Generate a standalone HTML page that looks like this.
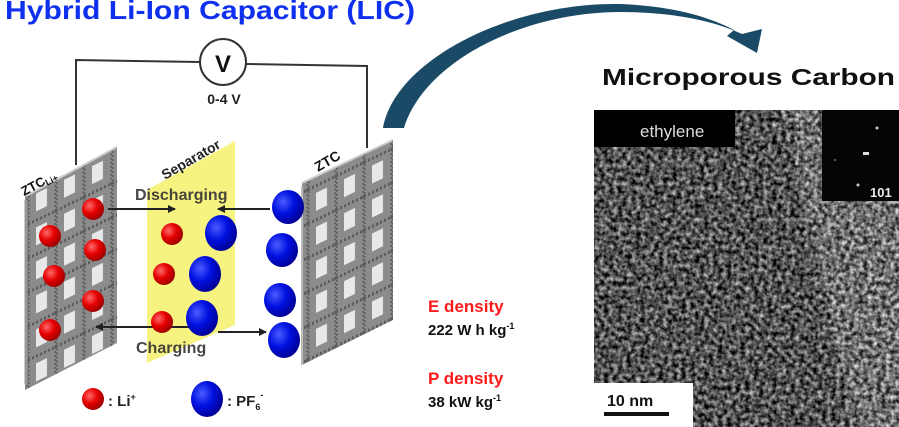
<!DOCTYPE html>
<html><head><meta charset="utf-8"><style>
html,body{margin:0;padding:0;background:#fff;width:899px;height:427px;overflow:hidden}
text{font-family:"Liberation Sans",Arial,sans-serif;font-weight:bold}
</style></head><body>
<svg width="899" height="427" viewBox="0 0 899 427" xmlns="http://www.w3.org/2000/svg">
<defs>
<radialGradient id="rg" cx="0.35" cy="0.35" r="0.7"><stop offset="0" stop-color="#ff6a6a"/><stop offset="0.5" stop-color="#e60000"/><stop offset="1" stop-color="#900"/></radialGradient>
<radialGradient id="bg" cx="0.35" cy="0.35" r="0.7"><stop offset="0" stop-color="#4a5cff"/><stop offset="0.5" stop-color="#0010e0"/><stop offset="1" stop-color="#000090"/></radialGradient>
<pattern id="lat" width="28" height="34" patternUnits="userSpaceOnUse" patternTransform="skewY(-26)">
<rect width="28" height="34" fill="#8c8c8c"/>
<rect x="8" y="7" width="11" height="18" fill="#e8e8e8"/>
<rect x="0" y="0" width="28" height="34" fill="none" stroke="#5a5a5a" stroke-width="3" stroke-dasharray="2 2"/>
</pattern>
<filter id="tem" x="0" y="0" width="1" height="1" color-interpolation-filters="sRGB">
<feTurbulence type="fractalNoise" baseFrequency="0.22" numOctaves="2" seed="3"/>
<feColorMatrix type="matrix" values="1.5 0 0 0 -0.37  1.5 0 0 0 -0.37  1.5 0 0 0 -0.37  0 0 0 0 1"/>
</filter>
<marker id="ah" markerWidth="8" markerHeight="8" refX="7" refY="4" orient="auto" markerUnits="userSpaceOnUse"><path d="M0,0 L8,4 L0,8 Z" fill="#222"/></marker>
</defs>

<text x="5" y="19" font-size="26" fill="#1030f0" textLength="410" lengthAdjust="spacingAndGlyphs">Hybrid Li-Ion Capacitor (LIC)</text>

<polyline points="76,165 76,60 200,62" fill="none" stroke="#333" stroke-width="2"/>
<polyline points="246,64 367,66 367,148" fill="none" stroke="#333" stroke-width="2"/>
<circle cx="223" cy="62" r="23" fill="#fff" stroke="#333" stroke-width="2"/>
<text x="223" y="72" font-size="24" text-anchor="middle" fill="#111">V</text>
<text x="224" y="104" font-size="14" text-anchor="middle" fill="#222">0-4 V</text>

<path d="M383,128 C395,60 510,2 620,4 C675,6 712,18 734,30 L727,36 L757,53 L762,29 L742,34 C712,20 670,12 620,12 C525,12 425,60 404,128 Z" fill="#1b4a66"/>

<polygon points="25,196 117,147 117,343 25,390" fill="url(#lat)"/>
<line x1="26" y1="200" x2="26" y2="384" stroke="#999" stroke-width="3"/>
<line x1="26" y1="196" x2="117" y2="147" stroke="#ccc" stroke-width="2"/>
<text x="0" y="0" font-size="13" fill="#111" transform="translate(24,196) rotate(-28)">ZTC<tspan font-size="9" dy="2">Li+</tspan></text>

<polygon points="147,190 235,141 235,325 147,363" fill="#f7f27a" opacity="0.95"/>
<text x="0" y="0" font-size="14" fill="#222" transform="translate(165,180) rotate(-30)">Separator</text>

<polygon points="302,183 393,140 393,320 302,365" fill="url(#lat)"/>
<line x1="302" y1="183" x2="393" y2="140" stroke="#ccc" stroke-width="2"/>
<line x1="302" y1="186" x2="302" y2="365" stroke="#bbb" stroke-width="2"/>
<text x="0" y="0" font-size="14" fill="#111" transform="translate(318,172) rotate(-30)">ZTC</text>

<line x1="108" y1="209" x2="175" y2="209" stroke="#222" stroke-width="2" marker-end="url(#ah)"/>
<line x1="270" y1="209" x2="218" y2="209" stroke="#222" stroke-width="2" marker-end="url(#ah)"/>
<line x1="190" y1="327" x2="96" y2="327" stroke="#222" stroke-width="2" marker-end="url(#ah)"/>
<line x1="218" y1="332" x2="266" y2="332" stroke="#222" stroke-width="2" marker-end="url(#ah)"/>
<text x="135" y="200" font-size="16" fill="#333" opacity="0.9">Discharging</text>
<text x="136" y="353" font-size="16" fill="#333" opacity="0.9">Charging</text>

<g fill="url(#rg)">
<circle cx="93" cy="209" r="11"/><circle cx="50" cy="236" r="11"/><circle cx="95" cy="250" r="11"/>
<circle cx="54" cy="276" r="11"/><circle cx="93" cy="301" r="11"/><circle cx="50" cy="330" r="11"/>
<circle cx="172" cy="234" r="11"/><circle cx="164" cy="274" r="11"/><circle cx="162" cy="322" r="11"/>
<circle cx="93" cy="399" r="11"/>
</g>
<g fill="url(#bg)">
<ellipse cx="221" cy="233" rx="16" ry="18"/><ellipse cx="205" cy="274" rx="16" ry="18"/><ellipse cx="202" cy="318" rx="16" ry="18"/>
<ellipse cx="288" cy="207" rx="16" ry="17"/><ellipse cx="282" cy="250" rx="16" ry="17"/>
<ellipse cx="280" cy="300" rx="16" ry="17"/><ellipse cx="284" cy="340" rx="16" ry="18"/>
<ellipse cx="207" cy="399" rx="16" ry="18"/>
</g>
<text x="108" y="406" font-size="15" fill="#222">: Li<tspan font-size="9" dy="-6">+</tspan></text>
<text x="227" y="406" font-size="15" fill="#222">: PF<tspan font-size="9" dy="4">6</tspan><tspan font-size="9" dy="-12">-</tspan></text>

<text x="428" y="312" font-size="17" fill="#ff1a1a">E density</text>
<text x="428" y="335" font-size="15" fill="#111">222 W h kg<tspan font-size="9" dy="-6">-1</tspan></text>
<text x="428" y="384" font-size="17" fill="#ff1a1a">P density</text>
<text x="428" y="407" font-size="15" fill="#111">38 kW kg<tspan font-size="9" dy="-6">-1</tspan></text>

<text x="602" y="85" font-size="23" fill="#111" textLength="293" lengthAdjust="spacingAndGlyphs">Microporous Carbon</text>
<rect x="594" y="110" width="305" height="317" fill="#555" filter="url(#tem)"/>
<polygon points="594,110 780,110 800,180 820,260 830,330 850,427 594,427" fill="#000" opacity="0.15"/>
<polygon points="800,110 899,110 899,427 860,427 840,360 822,280 800,200" fill="#fff" opacity="0.1"/>
<rect x="594" y="110" width="141" height="37" fill="#000"/>
<text x="640" y="137" font-size="17" fill="#ddd" style="font-weight:normal">ethylene</text>
<rect x="822" y="110" width="77" height="91" fill="#050505"/>
<circle cx="877" cy="128" r="1.5" fill="#ccc"/><rect x="863" y="152" width="6" height="3" fill="#ddd"/>
<circle cx="858" cy="185" r="1.5" fill="#ccc"/><circle cx="835" cy="160" r="1" fill="#777"/>
<text x="870" y="197" font-size="13" fill="#eee">101</text>
<rect x="594" y="383" width="99" height="44" fill="#fff"/>
<text x="607" y="406" font-size="16" fill="#111">10 nm</text>
<rect x="604" y="412" width="65" height="4" fill="#111"/>
</svg>
</body></html>
